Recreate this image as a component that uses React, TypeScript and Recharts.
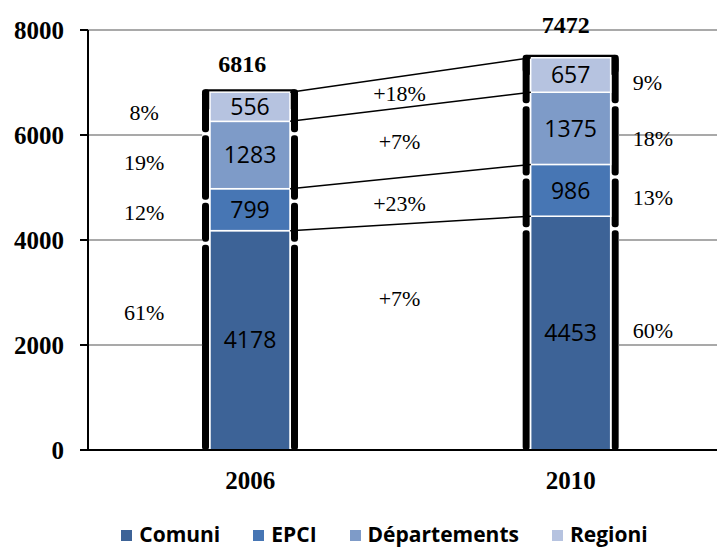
import React from 'react';
import {
  BarChart,
  Bar,
  XAxis,
  YAxis,
  ReferenceLine,
  ReferenceDot,
  LabelList,
  Legend,
} from 'recharts';

// ---------- data ----------
const years = ['2006', 'mid', '2010'];
const comuni = [4178, null, 4453];
const epci = [799, null, 986];
const departements = [1283, null, 1375];
const regioni = [556, null, 657];
const totals = [6816, null, 7472];
const shares2006 = ['61%', '12%', '19%', '8%'];
const shares2010 = ['60%', '13%', '18%', '9%'];
const growth = ['+7%', '+23%', '+7%', '+18%'];
const yTicks = [0, 2000, 4000, 6000, 8000];
const gridSplit = [2000, 4000, 6000];
const gridFull = [8000];
const seriesNames = ['Comuni', 'EPCI', 'Départements', 'Regioni'];
const seriesKeys = ['comuni', 'epci', 'dep', 'reg'];

// ---------- style ----------
const colors = ['#3D6397', '#4776B4', '#7E9BC8', '#B6C3E0'];
const serif = '"Liberation Serif", "Times New Roman", serif';
const sans = '"Open Sans", "Liberation Sans", sans-serif';
const BAR = 80;
const PAD_L = 82;
const PAD_R = 74;
const leftDy = [-28, 3, 7, 6];
const rightDy = [-3, 7, 10, 7];
const growthDy = [-38, 3, 0, 3];

const data = years.map((y, i) => ({
  year: y,
  comuni: comuni[i],
  epci: epci[i],
  dep: departements[i],
  reg: regioni[i],
}));

const seriesValues = [comuni, epci, departements, regioni];
const cumulative = (yi: number) => {
  const out: number[] = [];
  let s = 0;
  seriesValues.forEach((arr) => {
    s += (arr[yi] as number) || 0;
    out.push(s);
  });
  return out;
};
const cum2006 = cumulative(0);
const cum2010 = cumulative(2);
const mids = (cum: number[]) =>
  cum.map((c, i) => (c + (i === 0 ? 0 : cum[i - 1])) / 2);
const mid2006 = mids(cum2006);
const mid2010 = mids(cum2010);

const BarShape = (props: any) => {
  const { x, y, width, height, fill, isTop, isBottom } = props;
  if (!height || height <= 0 || !isFinite(y) || !isFinite(x)) return null;
  const start = isTop ? y - 3 : y + 14;
  const end = isBottom ? y + height : y + height + 11;
  return (
    <g>
      {isTop && (
        <rect x={x - 8} y={y - 3} width={width + 16} height={Math.min(height, 20)} rx={5} fill="#000" />
      )}
      <rect x={x - 8} y={start} width={7} height={end - start} rx={3} fill="#000" />
      <rect x={x + width + 1} y={start} width={7} height={end - start} rx={3} fill="#000" />
      <rect x={x} y={y} width={width} height={height} fill={fill} stroke="#fff" strokeWidth={1.5} />
    </g>
  );
};

// gridline split around the bars (hidden between the two columns)
const splitGrid = (p: any) => {
  const { x1, x2, y1 } = p;
  const band = (x2 - x1 - PAD_L - PAD_R) / years.length;
  const c06 = x1 + PAD_L + band / 2;
  const c10 = x1 + PAD_L + band * (years.length - 0.5);
  return (
    <g>
      <line x1={x1} y1={y1} x2={c06 - BAR / 2 - 8} y2={y1} stroke="#8c8c8c" strokeWidth={1.5} />
      <line x1={c10 + BAR / 2 + 8} y1={y1} x2={x2} y2={y1} stroke="#8c8c8c" strokeWidth={1.5} />
    </g>
  );
};

const XTick = (props: any) => {
  const { x, y, payload } = props;
  if (payload.value === 'mid') return null;
  return (
    <text x={x} y={y + 30} textAnchor="middle" dominantBaseline="central" fontFamily={serif} fontWeight={700} fontSize={25} fill="#000">
      {payload.value}
    </text>
  );
};

const textShape = (text: string, dx: number, dy: number, anchor: string, opts: any = {}) => (p: any) => (
  <text
    x={p.cx + dx}
    y={p.cy + dy}
    textAnchor={anchor}
    dominantBaseline="central"
    fontFamily={opts.family || serif}
    fontWeight={opts.weight || 400}
    fontSize={opts.size || 22}
    fill="#000"
  >
    {text}
  </text>
);

const renderLegend = () => (
  <div
    style={{
      display: 'flex',
      justifyContent: 'center',
      alignItems: 'center',
      paddingLeft: 36,
      height: 26,
      fontFamily: sans,
      fontWeight: 700,
      fontSize: 21,
      color: '#000',
      lineHeight: '26px',
    }}
  >
    {seriesNames.map((n, i) => (
      <div key={n} style={{ display: 'flex', alignItems: 'center', marginLeft: i === 0 ? 0 : 33 }}>
        <span style={{ width: 11, height: 11, background: colors[i], display: 'inline-block', marginRight: 7, marginTop: 2 }} />
        <span>{n}</span>
      </div>
    ))}
  </div>
);

export default function App() {
  return (
    <BarChart
      width={717}
      height={539}
      data={data}
      margin={{ top: 22, right: 0, bottom: 0, left: 0 }}
      barSize={BAR}
    >
      {gridFull.map((v) => (
        <ReferenceLine key={'gf' + v} y={v} stroke="#8c8c8c" strokeWidth={1.5} />
      ))}
      {gridSplit.map((v) => (
        <ReferenceLine key={'gs' + v} y={v} stroke="#8c8c8c" strokeWidth={1.5} shape={splitGrid} />
      ))}
      <XAxis
        dataKey="year"
        height={71}
        padding={{ left: PAD_L, right: PAD_R }}
        tickLine={false}
        tickSize={0}
        tickMargin={0}
        axisLine={{ stroke: '#000', strokeWidth: 2 }}
        tick={<XTick />}
        interval={0}
      />
      <YAxis
        width={80}
        domain={[0, 8000]}
        ticks={yTicks}
        tickSize={8}
        tickMargin={16}
        axisLine={{ stroke: '#000', strokeWidth: 2 }}
        tickLine={{ stroke: '#000', strokeWidth: 2 }}
        tick={{ fontFamily: serif, fontWeight: 700, fontSize: 25, fill: '#000' }}
      />
      {seriesKeys.map((k, i) => (
        <Bar
          key={k}
          dataKey={k}
          name={seriesNames[i]}
          stackId="a"
          fill={colors[i]}
          isAnimationActive={false}
          shape={(p: any) => <BarShape {...p} isTop={i === seriesKeys.length - 1} isBottom={i === 0} />}
        >
          <LabelList dataKey={k} position="center" fill="#000" fontFamily={sans} fontSize={23} />
        </Bar>
      ))}
      {cum2006.map((c, i) => (
        <ReferenceLine
          key={'l' + i}
          segment={[
            { x: '2006', y: c },
            { x: '2010', y: cum2010[i] },
          ]}
          stroke="#000"
          strokeWidth={1.5}
          shape={(p: any) => (
            <line x1={p.x1 + BAR / 2} y1={p.y1} x2={p.x2 - BAR / 2} y2={p.y2} stroke="#000" strokeWidth={1.5} />
          )}
        />
      ))}
      {shares2006.map((s, i) => (
        <ReferenceDot key={'s6' + i} x="2006" y={mid2006[i]} r={1} shape={textShape(s, -106, leftDy[i], 'middle')} />
      ))}
      {shares2010.map((s, i) => (
        <ReferenceDot key={'s10' + i} x="2010" y={mid2010[i]} r={1} shape={textShape(s, 62, rightDy[i], 'start')} />
      ))}
      {growth.map((g, i) => (
        <ReferenceDot
          key={'g' + i}
          x="mid"
          y={(mid2006[i] + mid2010[i]) / 2}
          r={1}
          shape={textShape(g, -11, growthDy[i], 'middle')}
        />
      ))}
      <ReferenceDot x="2006" y={totals[0] as number} r={1} shape={textShape(String(totals[0]), -8, -28, 'middle', { weight: 700, size: 24 })} />
      <ReferenceDot x="2010" y={totals[2] as number} r={1} shape={textShape(String(totals[2]), -5, -33, 'middle', { weight: 700, size: 24 })} />
      <Legend verticalAlign="bottom" height={26} content={renderLegend} />
    </BarChart>
  );
}
